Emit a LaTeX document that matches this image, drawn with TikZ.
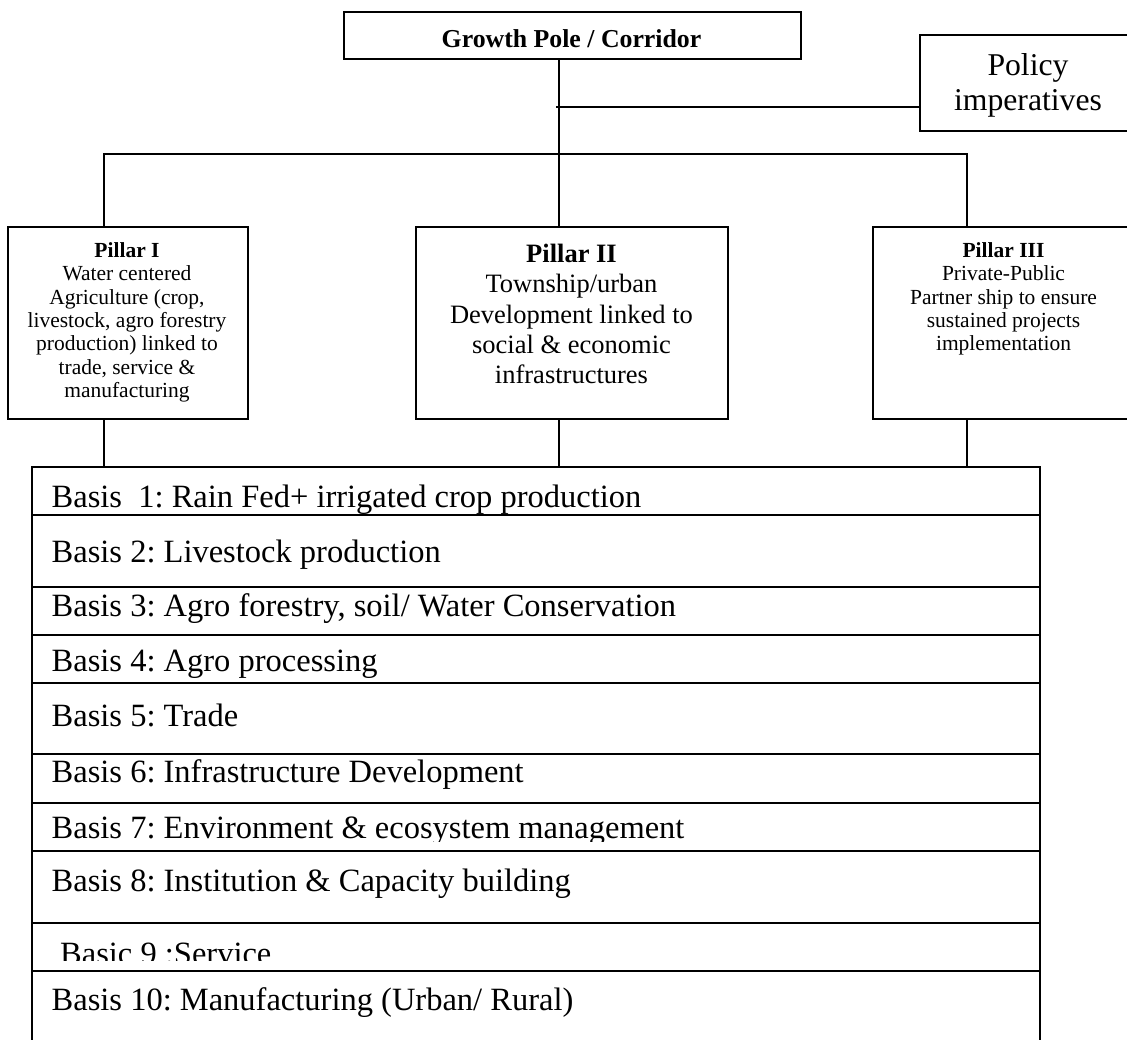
\documentclass[tikz,border=0pt]{standalone}
\usepackage{fontspec}
\setmainfont{Liberation Serif}
\frenchspacing
\begin{document}
\begin{tikzpicture}[x=1pt,y=-1pt,
  box/.style={draw, line width=1.5pt, inner sep=0pt, anchor=north west},
  rowbox/.style={draw, line width=1.8pt, inner sep=0pt, anchor=north west, minimum width=1008pt},
  link/.style={line width=1.2pt},
  basis/.style={anchor=base west, inner sep=0pt, font=\fontsize{32.5}{36}\selectfont},
  ptext/.style={anchor=north, inner sep=0pt, align=center, font=\fontsize{21.5}{23.3}\selectfont},
]
\useasboundingbox (0,0) rectangle (1127,1039);
\fill[white] (0,0) rectangle (1127,1039);

% top of the hierarchy
\node[box, minimum width=457pt, minimum height=47pt] (gp) at (343,11) {};
\node[anchor=base, inner sep=0pt, font=\bfseries\fontsize{25.8}{28}\selectfont] (gpt) at (571.5,47) {Growth Pole / Corridor};

\node[box, minimum width=218pt, minimum height=96pt] (pol) at (919,34) {};
\node[anchor=north, inner sep=0pt, align=center, font=\fontsize{31.7}{35}\selectfont] (polt) at (1028,53.3) {Policy\\imperatives};

% the three pillars
\node[box, minimum width=240pt, minimum height=192pt] (p1) at (7,226) {};
\node[ptext] (p1t) at (127,242.4) {\textbf{Pillar I}\\Water centered\\Agriculture (crop,\\livestock, agro forestry\\production) linked to\\trade, service \&\\manufacturing};

\node[box, minimum width=312pt, minimum height=192pt] (p2) at (415,226) {};
\node[ptext, font=\fontsize{26.5}{30.3}\selectfont] (p2t) at (571.5,244.1) {\textbf{Pillar II}\\Township/urban\\Development linked to\\social \& economic\\infrastructures};

\node[box, minimum width=264pt, minimum height=192pt] (p3) at (872,226) {};
\node[ptext] (p3t) at (1003.5,242.4) {\textbf{Pillar III}\\Private-Public\\Partner ship to ensure\\sustained projects\\implementation};

% table of the bases
\node[rowbox, minimum height=48pt] (r1) at (31,466) {};
\node[rowbox, minimum height=72pt] (r2) at (31,514) {};
\node[rowbox, minimum height=48pt] (r3) at (31,586) {};
\node[rowbox, minimum height=48pt] (r4) at (31,634) {};
\node[rowbox, minimum height=71pt] (r5) at (31,682) {};
\node[rowbox, minimum height=49pt] (r6) at (31,753) {};
\node[rowbox, minimum height=48pt] (r7) at (31,802) {};
\node[rowbox, minimum height=72pt] (r8) at (31,850) {};
\node[rowbox, minimum height=48pt] (r9) at (31,922) {};
\node[rowbox, minimum height=90pt] (r10) at (31,970) {};

\node[basis] (b1) at (51.5,507) {Basis\ \ 1: Rain Fed+ irrigated crop production};
\node[basis] (b2) at (51.5,562) {Basis 2: Livestock production};
\node[basis] (b3) at (51.5,616) {Basis 3: Agro forestry, soil/ Water Conservation};
\node[basis] (b4) at (51.5,671) {Basis 4: Agro processing};
\node[basis] (b5) at (51.5,726) {Basis 5: Trade};
\node[basis] (b6) at (51.5,782) {Basis 6: Infrastructure Development};
\begin{scope}
  \clip (31,802) rectangle (1039,841);
  \node[basis] (b7) at (51.5,838) {Basis 7: Environment \& ecosystem management};
\end{scope}
\node[basis] (b8) at (51.5,891) {Basis 8: Institution \& Capacity building};
\begin{scope}
  \clip (31,922) rectangle (1039,960);
  \node[basis] (b9) at (60,964) {Basic 9 :Service};
\end{scope}
\node[basis] (b10) at (51.5,1010) {Basis 10: Manufacturing (Urban/ Rural)};

% connectors
\coordinate (j) at (559,154);
\coordinate (jl) at (104,154);
\coordinate (jr) at (967,154);
\coordinate (stub) at (556,107);

\draw[link] (j |- gp.south) -- (j |- p2.north);
\draw[link] (stub -| pol.west) -- (stub);
\draw[link] (jl |- p1.north) -- (jl) -- (jr) -- (jr |- p3.north);
\draw[link] (jl |- p1.south) -- (jl |- r1.north);
\draw[link] (j |- p2.south) -- (j |- r1.north);
\draw[link] (jr |- p3.south) -- (jr |- r1.north);
\end{tikzpicture}
\end{document}
